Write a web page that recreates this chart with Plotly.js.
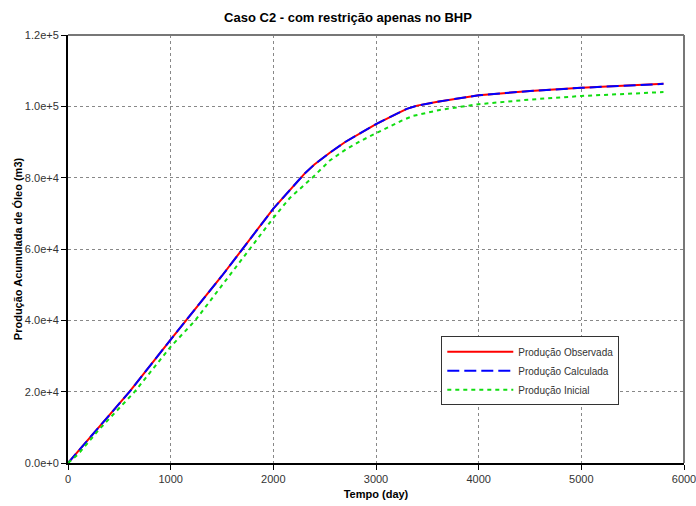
<!DOCTYPE html>
<html><head><meta charset="utf-8">
<script src="https://cdn.plot.ly/plotly-3.0.1.min.js"></script>
<style>body{margin:0;padding:0;background:#fff}#chart{width:696px;height:506px}</style>
</head><body><div id="chart"></div>
<script>
// Observed / calculated (nearly identical)
const tObs = [0, 300, 600, 1000, 1500, 2000, 2220, 2300, 2400, 2550, 2700, 2850, 3000, 3200, 3300, 3400, 3600, 4000, 4500, 5000, 5500, 5800];
const qObs = [0, 10000, 20000, 34600, 52500, 71300, 78600, 81000, 83700, 87000, 90000, 92600, 95000, 97900, 99300, 100200, 101300, 103100, 104300, 105200, 105900, 106300];
const tCalc = tObs;
const qCalc = qObs;
// Initial (base case)
const tIni = [0, 100, 300, 650, 1000, 1240, 1770, 2000, 2160, 2380, 2550, 2700, 2850, 3000, 3250, 3360, 3620, 4000, 4500, 5000, 5500, 5800];
const qIni = [0, 2500, 9300, 20000, 32600, 40000, 60000, 68700, 74300, 80000, 84800, 87800, 90300, 92400, 96000, 97300, 99000, 100600, 101900, 102900, 103600, 104000];

const names = ['Produção Observada', 'Produção Calculada', 'Produção Inicial'];
const font = 'Liberation Sans, Arial, sans-serif';

const data = [
  {x: tObs, y: qObs, name: names[0], mode: 'lines', line: {color: '#ff0000', width: 2}},
  {x: tCalc, y: qCalc, name: names[1], mode: 'lines', line: {color: '#0000ff', width: 2, dash: '12px,5px'}},
  {x: tIni, y: qIni, name: names[2], mode: 'lines', line: {color: '#11dd11', width: 2, dash: '4px,4px'}}
];

const layout = {
  width: 696, height: 506,
  margin: {l: 68, r: 12, t: 35, b: 43},
  paper_bgcolor: '#fff', plot_bgcolor: '#fff',
  font: {family: font, size: 11, color: '#333'},
  title: {text: 'Caso C2 - com restrição apenas no BHP', font: {family: font, size: 13, color: '#000', weight: 'bold'}, x: 0.5, xanchor: 'center', y: 0.965, yanchor: 'middle'},
  xaxis: {
    range: [0, 6000], tickvals: [0, 1000, 2000, 3000, 4000, 5000, 6000],
    ticklabeloverflow: 'allow',
    showline: true, linecolor: '#000', linewidth: 2,
    ticks: 'outside', ticklen: 5, tickcolor: '#000', tickwidth: 1,
    showgrid: true, gridcolor: '#888', griddash: 'dot', gridwidth: 1,
    zeroline: false,
    tickfont: {family: font, size: 11, color: '#333'},
    title: {text: 'Tempo (day)', font: {family: font, size: 11, color: '#000', weight: 'bold'}, standoff: 6}
  },
  yaxis: {
    range: [0, 120000], tickvals: [0, 20000, 40000, 60000, 80000, 100000, 120000],
    tickformat: '.1e',
    automargin: true,
    showline: true, linecolor: '#000', linewidth: 2,
    ticks: 'outside', ticklen: 5, tickcolor: '#000', tickwidth: 1,
    showgrid: true, gridcolor: '#888', griddash: 'dot', gridwidth: 1,
    zeroline: false,
    tickfont: {family: font, size: 11, color: '#333'},
    title: {text: 'Produção Acumulada de Óleo (m3)', font: {family: font, size: 11, color: '#000', weight: 'bold'}, standoff: 0}
  },
  shapes: [
    {type: 'line', xref: 'paper', yref: 'paper', x0: 0, x1: 1, y0: 1, y1: 1, line: {color: '#777', width: 2}},
    {type: 'line', xref: 'paper', yref: 'paper', x0: 1, x1: 1, y0: 0, y1: 1, line: {color: '#777', width: 2}}
  ],
  showlegend: true,
  legend: {
    x: 0.606, y: 0.296, xanchor: 'left', yanchor: 'top',
    bgcolor: '#fff', bordercolor: '#333', borderwidth: 1,
    font: {family: font, size: 10, color: '#333'},
    tracegroupgap: 0, itemwidth: 66
  }
};

Plotly.newPlot('chart', data, layout, {displayModeBar: false, staticPlot: true});
</script>
</body></html>
